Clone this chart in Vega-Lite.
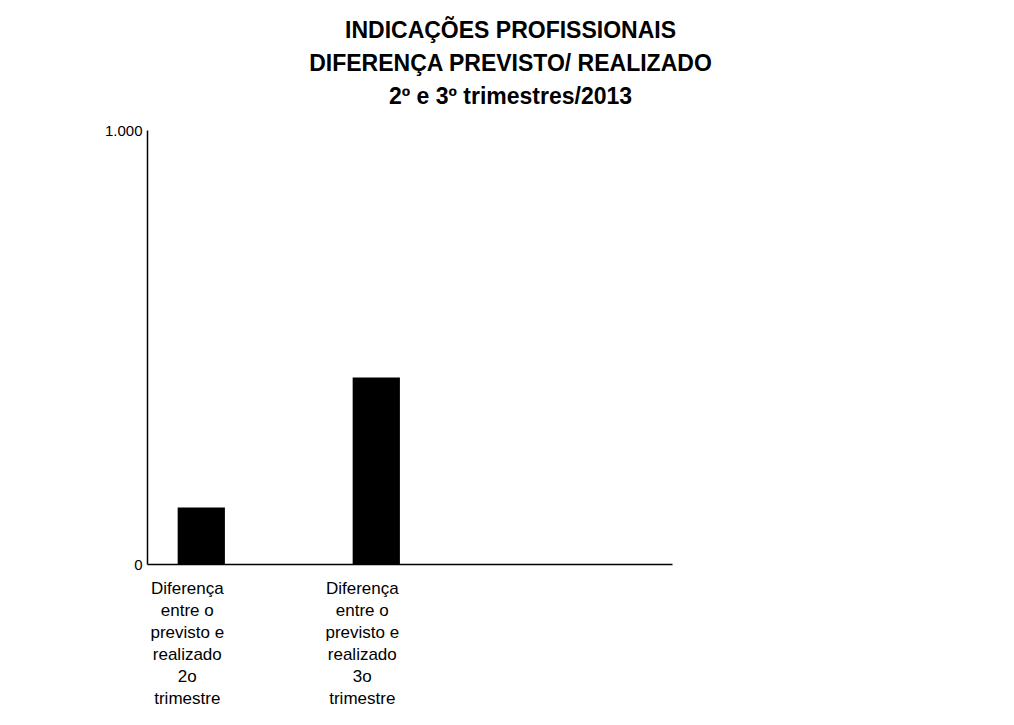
{
  "$schema": "https://vega.github.io/schema/vega-lite/v6.json",
  "autosize": "none",
  "width": 525,
  "height": 434,
  "padding": {"left": 147, "top": 130, "right": 342, "bottom": 161},
  "background": "white",
  "title": {
    "text": ["INDICAÇÕES PROFISSIONAIS", "DIFERENÇA PREVISTO/ REALIZADO", "2º e 3º trimestres/2013"],
    "font": "Liberation Sans",
    "fontSize": 23,
    "fontWeight": "bold",
    "color": "black",
    "anchor": "middle",
    "dx": 101,
    "lineHeight": 33,
    "offset": 14
  },
  "config": {"view": {"stroke": null}},
  "data": {
    "values": [
      {"categoria": "Diferença|entre o|previsto e|realizado|2o|trimestre", "valor": 130},
      {"categoria": "Diferença|entre o|previsto e|realizado|3o|trimestre", "valor": 430}
    ]
  },
  "mark": {"type": "bar", "color": "black"},
  "encoding": {
    "x": {
      "field": "categoria",
      "type": "nominal",
      "sort": null,
      "scale": {
        "domain": ["Diferença|entre o|previsto e|realizado|2o|trimestre", "Diferença|entre o|previsto e|realizado|3o|trimestre", " "],
        "paddingInner": 0.73,
        "paddingOuter": 0.365,
        "align": 0.24
      },
      "axis": {
        "title": null,
        "labelExpr": "split(datum.label, '|')",
        "labelAngle": 0,
        "labelFont": "Liberation Sans",
        "labelFontSize": 17,
        "labelColor": "black",
        "labelLineHeight": 22,
        "labelPadding": 16,
        "labelOffset": -14,
        "labelBaseline": "top",
        "ticks": false,
        "domainColor": "black",
        "domainWidth": 1.5
      }
    },
    "y": {
      "field": "valor",
      "type": "quantitative",
      "scale": {"domain": [0, 1000]},
      "axis": {
        "title": null,
        "values": [0, 1000],
        "labelExpr": "datum.value == 1000 ? '1.000' : '0'",
        "labelFont": "Liberation Sans",
        "labelFontSize": 15,
        "labelColor": "black",
        "grid": false,
        "ticks": false,
        "labelPadding": 5,
        "domainColor": "black",
        "domainWidth": 1.5
      }
    }
  }
}
